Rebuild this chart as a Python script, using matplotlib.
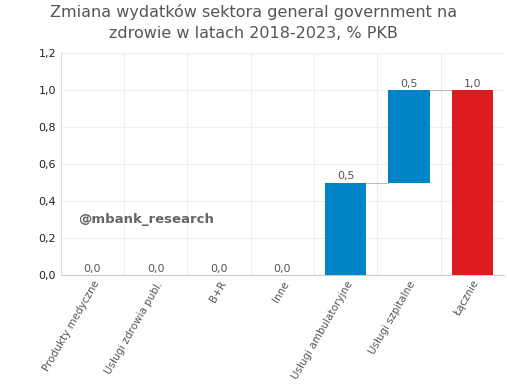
import matplotlib.pyplot as plt
import numpy as np

categories = ["Produkty medyczne", "Usługi zdrowia publ.", "B+R", "Inne",
              "Usługi ambulatoryjne", "Usługi szpitalne", "Łącznie"]
changes = [0.0, 0.0, 0.0, 0.0, 0.5, 0.5]
total = 1.0
labels = ["0,0", "0,0", "0,0", "0,0", "0,5", "0,5", "1,0"]

blue = "#0084c8"
red = "#de1b1f"
grey_txt = "#555555"

fig = plt.figure(figsize=(5.07, 3.88), dpi=100)
ax = fig.add_axes([0.120, 0.291, 0.874, 0.572])

x = np.arange(len(categories))
bottoms = np.concatenate([[0], np.cumsum(changes)[:-1]])
tops = bottoms + np.array(changes)
heights = list(changes) + [total]
bases = list(bottoms) + [0]
colors = [blue] * len(changes) + [red]

w = 0.65
ax.bar(x, heights, bottom=bases, width=w, color=colors, zorder=3)

# connectors between steps
levels = list(tops) + [total]
for i in range(len(categories) - 1):
    if levels[i] > 0:
        ax.plot([x[i] + w / 2, x[i + 1] - w / 2], [levels[i], levels[i]],
                color="#bbbbbb", lw=0.8, zorder=2)

for i, lab in enumerate(labels):
    top = bases[i] + heights[i]
    ax.text(x[i], top + 0.008, lab, ha="center", va="bottom",
            fontsize=8, color=grey_txt, zorder=4)

ax.set_xlim(-0.5, len(categories) - 0.5)
ax.set_ylim(0, 1.2)
ax.set_yticks(np.arange(0, 1.21, 0.2))
ax.set_yticklabels([f"{v:.1f}".replace(".", ",") for v in np.arange(0, 1.21, 0.2)],
                   fontsize=8, color="#222222")
ax.set_xticks(x)
ax.set_xticklabels(categories, rotation=60, ha="right", rotation_mode="anchor",
                   fontsize=7.5, color=grey_txt)
ax.set_xticks(np.arange(-0.5, len(categories), 1), minor=True)
ax.tick_params(axis="both", which="both", length=0)
ax.tick_params(axis="x", pad=3)
ax.grid(axis="y", color="#eeeeee", lw=0.8, zorder=0)
ax.grid(axis="x", which="minor", color="#eeeeee", lw=0.8, zorder=0)

for s in ["top", "right"]:
    ax.spines[s].set_visible(False)
ax.spines["left"].set_color("#dddddd")
ax.spines["bottom"].set_color("#cccccc")

ax.text(0.04, 0.25, "@mbank_research", fontsize=9.5, fontweight="bold",
        color="#666666", transform=ax.transAxes, va="center")

fig.text(0.50, 0.99, "Zmiana wydatków sektora general government na\nzdrowie w latach 2018-2023, % PKB",
         ha="center", va="top", fontsize=11.5, color=grey_txt, linespacing=1.55)

fig.savefig("out.png", dpi=100)
